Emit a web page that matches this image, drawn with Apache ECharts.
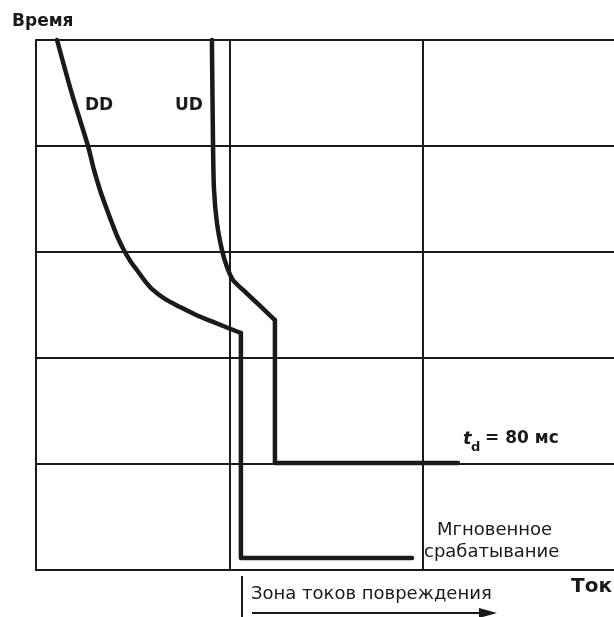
<!DOCTYPE html>
<html>
<head>
<meta charset="utf-8">
<script src="https://cdn.jsdelivr.net/npm/echarts@6/dist/echarts.min.js"></script>
<style>html,body{margin:0;padding:0;background:#fff;}#c{width:614px;height:617px;}</style>
</head>
<body>
<div id="c"></div>
<script>
// Curve data (x: current units, y: time units)
var ddCurve = [[0.109,5.0],[0.186,4.491],[0.269,4.0],[0.300,3.774],[0.331,3.585],[0.362,3.425],[0.393,3.274],[0.424,3.132],[0.460,3.0],[0.491,2.906],[0.522,2.830],[0.564,2.726],[0.605,2.642],[0.667,2.557],[0.745,2.481],[0.828,2.406],[0.916,2.340],[1.060,2.236]];
var ddStep = [[1.060,2.236],[1.060,0.113],[1.945,0.113]];
var udCurve = [[0.910,5.0],[0.916,3.981],[0.921,3.585],[0.936,3.274],[0.962,3.019],[0.988,2.858],[1.019,2.736],[1.071,2.642],[1.143,2.519],[1.236,2.358]];
var udStep = [[1.236,2.358],[1.236,1.01],[2.183,1.01]];
var xTicks = [0,1,2];
var yTicks = [0,1,2,3,4,5];
var labels = {
  yName: 'Время', xName: 'Ток', dd: 'DD', ud: 'UD',
  td: '= 80 мс', inst1: 'Мгновенное', inst2: 'срабатывание', zone: 'Зона токов повреждения'
};

var chart = echarts.init(document.getElementById('c'));
var ink = '#1a1a1a';
var font = 'DejaVu Sans';
function txt(t, x, y, size, weight, style) {
  return {type:'text', style:{text:t, x:x, y:y, fontSize:size, fontWeight:weight||'normal', fontStyle:style||'normal', fontFamily:font, fill:ink, verticalAlign:'middle', align:'left'}};
}
function curve(d, smooth) {
  return {type:'line', data:d, symbol:'none', clip:false, smooth:smooth, lineStyle:{color:ink, width:4.5, join:'round', cap:'round'}};
}
chart.setOption({
  animation:false,
  backgroundColor:'#fff',
  grid:{left:36, top:40, right:0, height:530, containLabel:false},
  xAxis:{type:'value', min:xTicks[0], max:2.99, interval:1,
    axisLine:{show:true, lineStyle:{color:ink, width:2}}, axisTick:{show:false}, axisLabel:{show:false},
    splitLine:{show:true, showMaxLine:false, lineStyle:{color:ink, width:2}}},
  yAxis:{type:'value', min:yTicks[0], max:yTicks[yTicks.length-1], interval:1,
    axisLine:{show:true, lineStyle:{color:ink, width:2}}, axisTick:{show:false}, axisLabel:{show:false},
    splitLine:{show:true, lineStyle:{color:ink, width:2}}},
  series:[
    curve(ddCurve, 0.3), curve(ddStep, false),
    curve(udCurve, 0.3), curve(udStep, false)
  ],
  graphic:[
    txt(labels.yName, 12, 22, 17, 'bold'),
    txt(labels.dd, 85, 106, 17, 'bold'),
    txt(labels.ud, 175, 106, 17, 'bold'),
    txt('t', 463, 439, 18, 'bold', 'italic'),
    txt('d', 471, 448, 13, 'bold'),
    txt(labels.td, 485, 439, 17, 'bold'),
    txt(labels.inst1, 437, 530, 18),
    txt(labels.inst2, 424, 552, 18),
    txt(labels.zone, 251, 594, 18),
    txt(labels.xName, 571, 587, 20, 'bold'),
    {type:'line', shape:{x1:242, y1:576, x2:242, y2:617}, style:{stroke:ink, lineWidth:2}},
    {type:'line', shape:{x1:252, y1:613, x2:484, y2:613}, style:{stroke:ink, lineWidth:2}},
    {type:'polygon', shape:{points:[[479,608],[497,613],[479,618]]}, style:{fill:ink}}
  ]
});
</script>
</body>
</html>
